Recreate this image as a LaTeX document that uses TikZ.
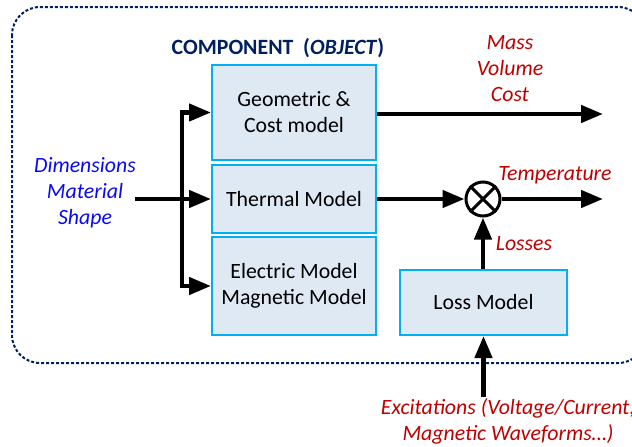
\documentclass[tikz,border=0pt]{standalone}
\usepackage{fontspec}
\setmainfont{Carlito}
\usetikzlibrary{arrows.meta,shapes.geometric}
\definecolor{navy}{RGB}{0,32,96}
\definecolor{bluetxt}{RGB}{10,10,240}
\definecolor{redtxt}{RGB}{192,0,0}
\definecolor{boxfill}{RGB}{222,233,244}
\definecolor{boxline}{RGB}{0,176,240}
\tikzset{
  model/.style={draw=boxline, fill=boxfill, line width=2pt, align=center, inner sep=0pt, font=\fontsize{21.8}{26}\selectfont},
  arr/.style={line width=4.5pt, line join=miter, -{Triangle[length=22pt,width=17pt]}},
  inlbl/.style={text=bluetxt, font=\fontsize{21.8}{26}\selectfont\itshape, align=center},
  outlbl/.style={text=redtxt, font=\fontsize{21.8}{26}\selectfont\itshape, align=center},
}
\begin{document}
\begin{tikzpicture}[x=1pt,y=-1pt]
\useasboundingbox (0,0) rectangle (632,447);
% dashed component border
\draw[navy, line width=2pt, dash pattern=on 3pt off 2pt, rounded corners=28pt] (12,7) rectangle (646,363);
\node[text=navy, font=\fontsize{21.8}{24}\selectfont\bfseries] (title) at (278,48) {COMPONENT\ \ (\textit{OBJECT})};
% model boxes
\node[model, minimum width=164pt, minimum height=95pt] (geo) at (294,112.5) {Geometric \&\\Cost model};
\node[model, minimum width=164pt, minimum height=68pt] (therm) at (294,199) {Thermal Model};
\node[model, minimum width=164pt, minimum height=98pt] (elec) at (294,286) {Electric Model\\Magnetic Model};
\node[model, minimum width=167pt, minimum height=65pt] (loss) at (483.5,302.5) {Loss Model};
% summing junction
\node[draw, circle, line width=3pt, minimum size=34pt, inner sep=0pt] (sum) at (483,199) {};
\draw[line width=3pt] (sum.north west) -- (sum.south east) (sum.north east) -- (sum.south west);
% labels
\node[inlbl] (inp) at (85,193) {Dimensions\\Material\\Shape};
\node[outlbl] (mvc) at (510,69) {Mass\\Volume\\Cost};
\node[outlbl] (temp) at (555,175) {Temperature};
\node[outlbl] (lossl) at (524,244) {Losses};
\node[outlbl] (exc) at (508,421) {Excitations (Voltage/Current,\\Magnetic Waveforms…)};
% coordinates
\coordinate (instart) at (135,199);
\coordinate (br) at (182,199);
\coordinate (geoout) at (603,114);
\coordinate (tempout) at (603,199);
\coordinate (excstart) at (483.5,397);
% connectors
\draw[arr] (instart) -- (therm.west);
\draw[arr] (br) |- (geo.west);
\draw[arr] (br) |- (elec.west);
\draw[arr] (geo.east |- geoout) -- (geoout);
\draw[arr] (therm.east) -- (sum.west);
\draw[arr] (sum.east) -- (tempout);
\draw[arr] (loss.north -| sum) -- (sum.south);
\draw[arr] (excstart) -- (loss.south);
\end{tikzpicture}
\end{document}
